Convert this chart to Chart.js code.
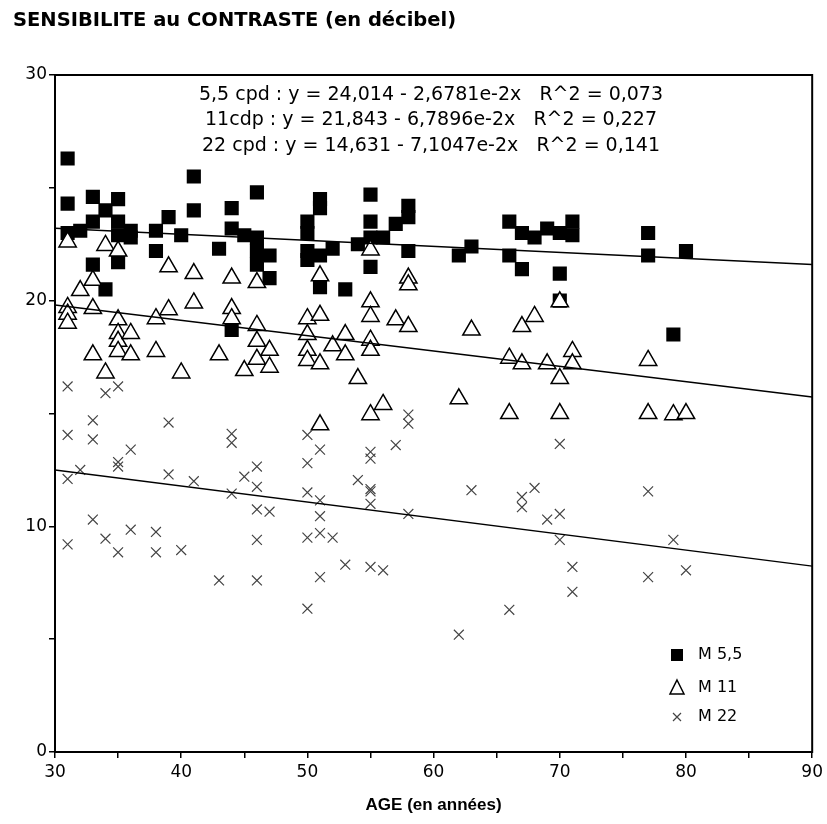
<!DOCTYPE html>
<html>
<head>
<meta charset="utf-8">
<script src="https://cdn.jsdelivr.net/npm/chart.js@4.4.0/dist/chart.umd.min.js"></script>
<style>
html, body { margin: 0; padding: 0; background: #fff; }
</style>
</head>
<body>
<canvas id="chart" width="827" height="824"></canvas>
<script>
// M 5,5 (squares)
const ages55 = [31,31,31,32,33,33,33,34,34,35,35,35,35,36,36,38,38,39,40,41,41,43,44,44,44,45,46,46,46,46,47,47,50,50,50,50,51,51,51,51,52,53,54,55,55,55,55,56,57,58,58,58,62,63,66,66,67,67,68,69,70,70,70,71,71,77,77,79,80];
const vals55 = [26.3,24.3,23.0,23.1,24.6,23.5,21.6,24.0,20.5,24.5,23.5,22.9,21.7,23.1,22.8,23.1,22.2,23.7,22.9,25.5,24.0,22.3,24.1,23.2,18.7,22.9,24.8,22.8,22.2,21.6,22.0,21.0,23.5,23.0,22.2,21.8,24.5,24.1,22.0,20.6,22.3,20.5,22.5,24.7,23.5,22.8,21.5,22.8,23.4,24.2,23.7,22.2,22.0,22.4,23.5,22.0,23.0,21.4,22.8,23.2,23.0,21.2,20.0,23.5,22.9,23.0,22.0,18.5,22.2];

// M 11 (triangles)
const ages11 = [31,31,31,31,32,33,33,33,34,34,35,35,35,35,35,36,36,38,38,39,39,40,41,41,43,44,44,44,45,46,46,46,46,47,47,50,50,50,50,51,51,51,51,52,53,53,54,55,55,55,55,55,55,56,57,58,58,58,62,63,66,66,67,67,68,69,70,70,70,71,71,77,77,79,80];
const vals11 = [22.6,19.7,19.4,19.0,20.45,20.9,19.65,17.6,22.45,16.8,22.2,19.15,18.55,18.2,17.75,18.55,17.6,19.2,17.75,21.5,19.6,16.8,21.2,19.9,17.6,21.0,19.65,19.2,16.9,20.8,18.9,18.2,17.4,17.8,17.05,19.2,18.5,17.8,17.35,21.1,19.35,17.2,14.5,18.0,18.5,17.6,16.55,22.25,19.95,19.3,18.25,17.8,14.95,15.4,19.15,21.0,20.7,18.85,15.65,18.7,17.45,15.0,18.85,17.2,19.3,17.2,19.95,16.55,15.0,17.75,17.2,17.35,15.0,14.95,15.0];

// M 22 (crosses)
const ages22 = [31,31,31,31,32,33,33,33,34,34,35,35,35,35,36,36,38,38,39,39,40,41,43,44,44,44,45,46,46,46,46,46,47,50,50,50,50,50,51,51,51,51,51,52,53,54,55,55,55,55,55,55,56,57,58,58,58,62,63,66,67,67,68,69,70,70,70,71,71,77,77,79,80];
const vals22 = [16.2,14.05,12.1,9.2,12.5,14.7,13.85,10.3,15.9,9.45,16.2,12.85,12.65,8.85,13.4,9.85,9.75,8.85,14.6,12.3,8.95,12.0,7.6,14.1,13.7,11.45,12.2,12.65,11.75,10.75,9.4,7.6,10.65,14.05,12.8,11.5,9.5,6.35,13.4,11.15,10.45,9.7,7.75,9.5,8.3,12.05,13.3,13.0,11.65,11.55,11.0,8.2,8.05,13.6,14.95,14.55,10.55,5.2,11.6,6.3,11.3,10.85,11.7,10.3,13.65,10.55,9.4,8.2,7.1,11.55,7.75,9.4,8.05];

// regression lines, as printed on the chart
const fitIntercept = [24.014, 21.843, 14.631];
const fitSlope = [-2.6781e-2, -6.7896e-2, -7.1047e-2];
const fitRange = [30, 90];
const equations = [
  "5,5 cpd : y = 24,014 - 2,6781e-2x   R^2 = 0,073",
  "11cdp : y = 21,843 - 6,7896e-2x   R^2 = 0,227",
  "22 cpd : y = 14,631 - 7,1047e-2x   R^2 = 0,141"
];
const legendLabels = ["M 5,5", "M 11", "M 22"];

const pts = (xs, ys) => xs.map((x, i) => ({ x: x, y: ys[i] }));
const fitLine = i => fitRange.map(x => ({ x: x, y: fitIntercept[i] + fitSlope[i] * x }));

const lineDs = i => ({
  type: "line",
  data: fitLine(i),
  borderColor: "#000",
  borderWidth: 1.5,
  pointRadius: 0,
  fill: false,
  order: 0
});

const decor = {
  id: "decor",
  afterDraw(chart) {
    const ctx = chart.ctx;
    const a = chart.chartArea;
    ctx.save();
    // frame
    ctx.strokeStyle = "#000";
    ctx.lineWidth = 2;
    ctx.strokeRect(a.left, a.top, a.right - a.left, a.bottom - a.top);
    // titles
    ctx.fillStyle = "#000";
    ctx.textBaseline = "middle";
    ctx.textAlign = "left";
    ctx.font = "bold 19.5px 'DejaVu Sans'";
    ctx.fillText("SENSIBILITE au CONTRASTE (en décibel)", 13, 21);
    ctx.textAlign = "center";
    ctx.font = "bold 17px 'Liberation Sans'";
    ctx.fillText("AGE (en années)", (a.left + a.right) / 2, 805);
    // equations
    ctx.font = "19px 'DejaVu Sans'";
    equations.forEach((t, i) => ctx.fillText(t, 431, 95 + i * 25.5));
    // legend
    ctx.textAlign = "left";
    ctx.font = "16px 'DejaVu Sans'";
    const lx = 677, ly = [655, 688, 717];
    ctx.fillRect(lx - 6, ly[0] - 6, 12, 12);
    ctx.lineWidth = 1.5;
    ctx.beginPath();
    ctx.moveTo(lx, ly[1] - 8);
    ctx.lineTo(lx + 7, ly[1] + 6);
    ctx.lineTo(lx - 7, ly[1] + 6);
    ctx.closePath();
    ctx.stroke();
    ctx.strokeStyle = "#444";
    ctx.lineWidth = 1.2;
    ctx.beginPath();
    ctx.moveTo(lx - 4, ly[2] - 4); ctx.lineTo(lx + 4, ly[2] + 4);
    ctx.moveTo(lx + 4, ly[2] - 4); ctx.lineTo(lx - 4, ly[2] + 4);
    ctx.stroke();
    legendLabels.forEach((t, i) => ctx.fillText(t, lx + 21, ly[i]));
    ctx.restore();
  }
};

new Chart(document.getElementById("chart"), {
  type: "scatter",
  data: {
    datasets: [
      lineDs(0), lineDs(1), lineDs(2),
      {
        label: legendLabels[2],
        data: pts(ages22, vals22),
        pointStyle: "crossRot",
        pointRadius: 7,
        borderColor: "#444",
        borderWidth: 1.2,
        order: 1
      },
      {
        label: legendLabels[1],
        data: pts(ages11, vals11),
        pointStyle: "triangle",
        pointRadius: 10,
        backgroundColor: "#fff",
        borderColor: "#000",
        borderWidth: 1.5,
        order: 2
      },
      {
        label: legendLabels[0],
        data: pts(ages55, vals55),
        pointStyle: "rect",
        pointRadius: 10,
        backgroundColor: "#000",
        borderColor: "#000",
        borderWidth: 0,
        order: 3
      }
    ]
  },
  options: {
    responsive: false,
    animation: false,
    layout: { padding: { top: 75, right: 12, left: 0, bottom: 0 } },
    plugins: {
      legend: { display: false },
      tooltip: { enabled: false },
      title: { display: false }
    },
    scales: {
      x: {
        type: "linear",
        min: 30,
        max: 90,
        afterFit: s => { s.height = 72; },
        border: { display: true, color: "#000", width: 2 },
        grid: { drawOnChartArea: false, color: "#000", tickLength: 6, lineWidth: 1.5 },
        ticks: {
          stepSize: 5,
          padding: 4,
          color: "#000",
          font: { family: "DejaVu Sans", size: 17 },
          maxRotation: 0,
          autoSkip: false,
          callback: v => (v % 10 === 0 ? v : "")
        }
      },
      y: {
        type: "linear",
        min: 0,
        max: 30,
        afterFit: s => { s.width = 55; },
        border: { display: true, color: "#000", width: 2 },
        grid: { drawOnChartArea: false, color: "#000", tickLength: 6, lineWidth: 1.5 },
        ticks: {
          stepSize: 5,
          padding: 2,
          color: "#000",
          font: { family: "DejaVu Sans", size: 17 },
          autoSkip: false,
          callback: v => (v % 10 === 0 ? v : "")
        }
      }
    }
  },
  plugins: [decor]
});
</script>
</body>
</html>
